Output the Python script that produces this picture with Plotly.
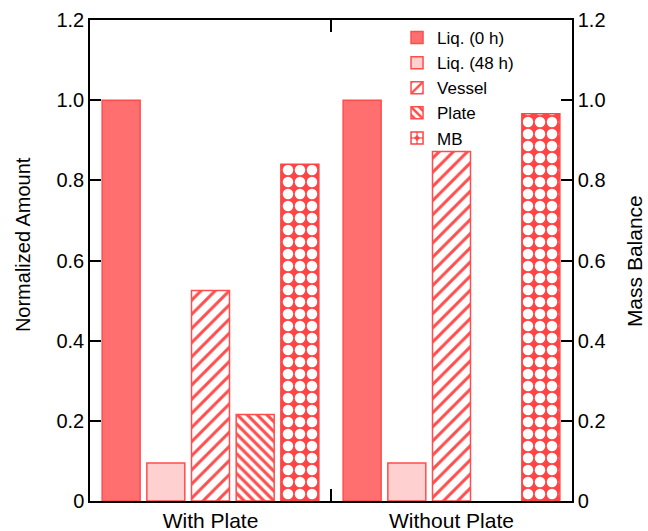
import plotly.graph_objects as go

categories = ["With Plate", "Without Plate"]
liq_0h = [1.0, 1.0]
liq_48h = [0.095, 0.095]
vessel = [0.525, 0.872]
plate = [0.216, 0.0]
mass_balance = [0.84, 0.966]

y_ticks = [0, 0.2, 0.4, 0.6, 0.8, 1.0, 1.2]
y_tick_text = ["0", "0.2", "0.4", "0.6", "0.8", "1.0", "1.2"]

RED = "#FF4D4D"
FONT = "Liberation Sans, Arial, sans-serif"

fig = go.Figure()

fig.add_trace(go.Bar(
    name="Liq. (0 h)", x=categories, y=liq_0h,
    marker=dict(color="#FF6F6F", line=dict(color=RED, width=1.5)),
))
fig.add_trace(go.Bar(
    name="Liq. (48 h)", x=categories, y=liq_48h,
    marker=dict(color="#FFD0D0", line=dict(color=RED, width=1.5)),
))
fig.add_trace(go.Bar(
    name="Vessel", x=categories, y=vessel,
    marker=dict(color="white", line=dict(color=RED, width=1.5),
                pattern=dict(shape="/", fgcolor=RED, bgcolor="white",
                             size=10, solidity=0.3, fillmode="replace")),
))
# no outline on empty bars so nothing is drawn over the axis line
plate_outline = [1.5 if v > 0 else 0 for v in plate]
fig.add_trace(go.Bar(
    name="Plate", x=categories, y=plate,
    marker=dict(color="white", line=dict(color=RED, width=plate_outline),
                pattern=dict(shape="\\", fgcolor=RED, bgcolor="white",
                             size=7, solidity=0.45, fillmode="replace")),
))
fig.add_trace(go.Bar(
    name="MB", x=categories, y=mass_balance,
    marker=dict(color="#FF4444", line=dict(color="#FF4444", width=1.5),
                pattern=dict(shape=".", fgcolor="white", bgcolor="#FF4444",
                             size=12, solidity=0.6, fillmode="replace")),
))

# Mass balance scale on the right-hand axis
fig.add_trace(go.Scatter(
    x=categories, y=mass_balance, yaxis="y2", mode="none",
    showlegend=False, hoverinfo="skip",
))

axis_common = dict(
    range=[0, 1.2], tickvals=y_ticks, ticktext=y_tick_text,
    ticks="inside", ticklen=11, tickwidth=1.5, tickcolor="black",
    showline=True, linecolor="black", linewidth=1.5, showgrid=False,
    zeroline=False, automargin=False,
    tickfont=dict(family=FONT, size=20, color="black"),
)

fig.update_layout(
    width=648, height=531,
    margin=dict(l=90, r=76, t=20, b=30),
    paper_bgcolor="white", plot_bgcolor="white",
    barmode="group", bargap=0.073, bargroupgap=0.15,
    font=dict(family=FONT, size=20, color="black"),
    xaxis=dict(
        range=[-0.5, 1.5], tickson="boundaries", ticks="inside",
        ticklen=12, tickwidth=1.5, tickcolor="black",
        showline=True, linecolor="black", linewidth=1.5, mirror="ticks",
        showgrid=False, automargin=False,
        tickfont=dict(family=FONT, size=21, color="black"),
    ),
    yaxis=dict(**axis_common),
    yaxis2=dict(overlaying="y", side="right", **axis_common),
    legend=dict(x=0.637, y=1.0, xanchor="left", yanchor="top",
                bgcolor="rgba(0,0,0,0)", tracegroupgap=0,
                font=dict(family=FONT, size=17, color="black")),
    annotations=[
        dict(text="Normalized Amount", xref="paper", yref="paper",
             x=-0.139, y=0.532, xanchor="center", yanchor="middle",
             textangle=-90, showarrow=False,
             font=dict(family=FONT, size=20, color="black")),
        dict(text="Mass Balance", xref="paper", yref="paper",
             x=1.131, y=0.499, xanchor="center", yanchor="middle",
             textangle=-90, showarrow=False,
             font=dict(family=FONT, size=21, color="black")),
    ],
)

fig.write_html("out.html")
